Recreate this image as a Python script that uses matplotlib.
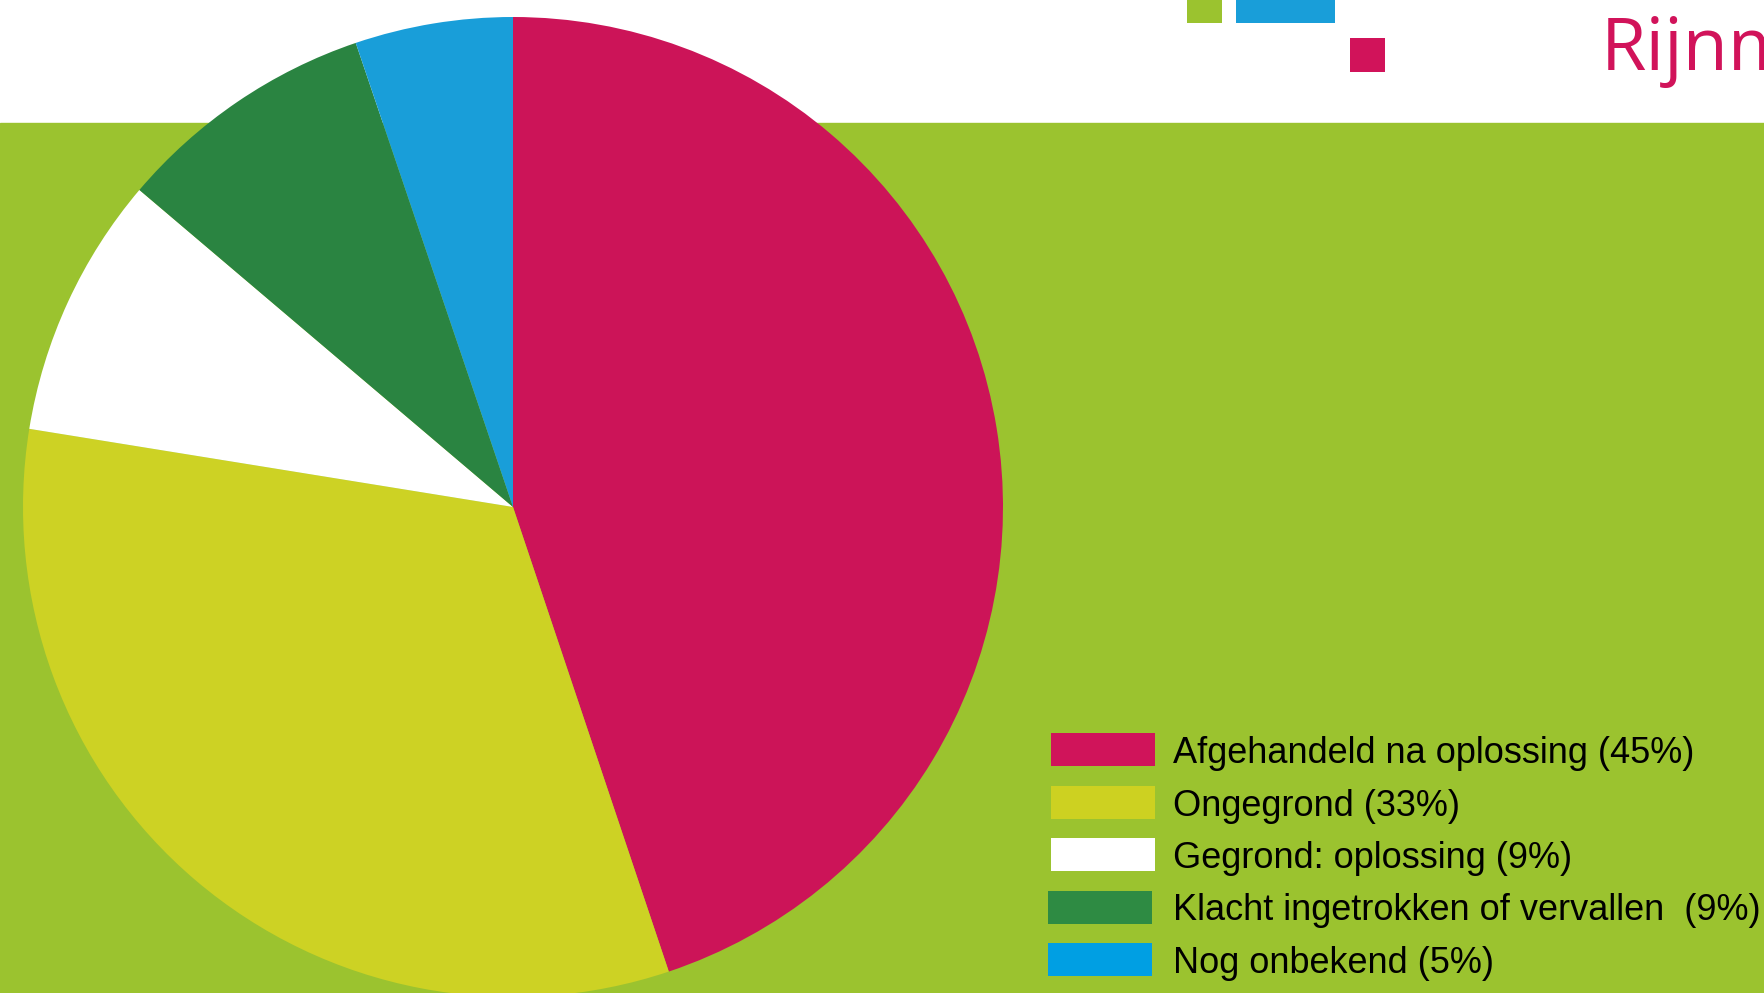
import matplotlib
matplotlib.use("Agg")
import matplotlib.pyplot as plt
from matplotlib.patches import Rectangle

# pie data (shares; labels as printed)
labels = ["Afgehandeld na oplossing (45%)", "Ongegrond (33%)", "Gegrond: oplossing (9%)",
          "Klacht ingetrokken of vervallen  (9%)", "Nog onbekend (5%)"]
values = [44.85, 32.7, 8.65, 8.6, 5.2]
slice_colors = ["#CC1458", "#CDD224", "#FFFFFF", "#2A8441", "#199ED9"]
legend_colors = ["#D0145A", "#CDD121", "#FFFFFF", "#2E8B43", "#009FE3"]

BG_GREEN = "#9BC32F"
W, H = 1764, 993

fig = plt.figure(figsize=(W / 100, H / 100), dpi=100)
ax = fig.add_axes([0, 0, 1, 1])

# white header, green band
fig.patch.set_facecolor("white")
ax.add_patch(Rectangle((0, 0), W, H - 123, color=BG_GREEN, zorder=0))

# pie
ax.pie(values, colors=slice_colors, startangle=90, counterclock=False,
       center=(513, H - 507), radius=490, frame=True,
       wedgeprops=dict(linewidth=0, antialiased=True))
ax.set_xlim(0, W)
ax.set_ylim(0, H)
ax.set_aspect("auto")
ax.axis("off")

# legend
for i, (lab, col) in enumerate(zip(labels, legend_colors)):
    yc = H - (750 + 52.5 * i)
    x0 = 1051 if i < 3 else 1048
    ax.add_patch(Rectangle((x0, yc - 16), 104, 33, color=col, linewidth=0, zorder=3))
    ax.text(1173, yc - 13, lab, fontsize=26, family="Liberation Sans",
            color="black", va="baseline", ha="left", zorder=4)

# logo top right (cut off at the right edge, as in the original slide)
ax.add_patch(Rectangle((1187, H - 23), 35, 23, color=BG_GREEN, linewidth=0))
ax.add_patch(Rectangle((1236, H - 23), 99, 23, color="#199ED9", linewidth=0))
ax.add_patch(Rectangle((1350, H - 72), 35, 34, color="#D1135A", linewidth=0))
ax.text(1601, H - 70, "Rijnmond", fontsize=53, family="Open Sans",
        color="#D1135A", va="baseline", ha="left", clip_on=True)

fig.savefig("out.png", dpi=100, facecolor="white")
